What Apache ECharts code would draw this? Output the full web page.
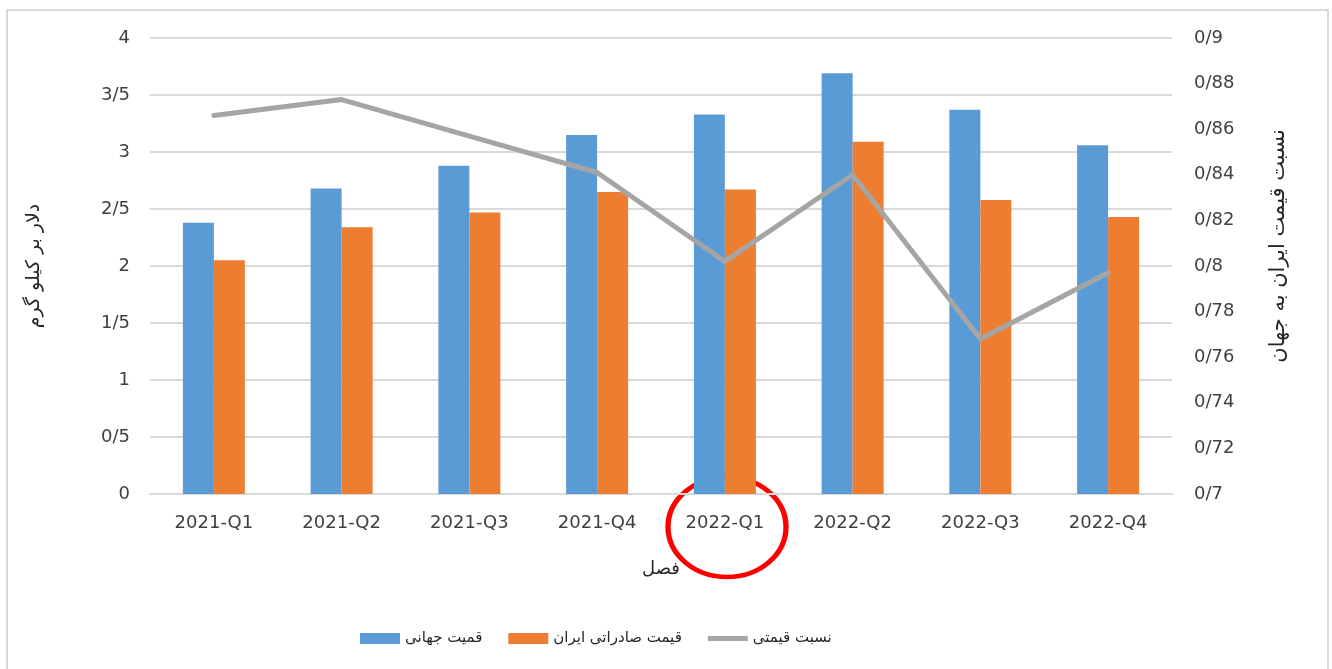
<!DOCTYPE html>
<html>
<head>
<meta charset="utf-8">
<script src="https://cdn.jsdelivr.net/npm/echarts@6/dist/echarts.min.js"></script>
<style>
  html, body { margin: 0; padding: 0; background: #fff; }
  #myChart { width: 1332px; height: 669px; }
</style>
</head>
<body>
<div id="myChart"></div>
<script>
  var quarters = ['2021-Q1', '2021-Q2', '2021-Q3', '2021-Q4', '2022-Q1', '2022-Q2', '2022-Q3', '2022-Q4']
  var worldPrice = [2.38, 2.68, 2.88, 3.15, 3.33, 3.69, 3.37, 3.06]
  var iranPrice = [2.05, 2.34, 2.47, 2.65, 2.67, 3.09, 2.58, 2.43]
  var priceRatio = [0.866, 0.873, 0.857, 0.841, 0.802, 0.840, 0.768, 0.797]
  var leftTicks = ['0', '0/5', '1', '1/5', '2', '2/5', '3', '3/5', '4']
  var rightTicks = ['0/7', '0/72', '0/74', '0/76', '0/78', '0/8', '0/82', '0/84', '0/86', '0/88', '0/9']

  var font = 'DejaVu Sans'
  var textColor = '#404040'
  var myChart = echarts.init(document.getElementById('myChart'))
  var option = {
    backgroundColor: '#fff',
    animation: false,
    textStyle: { fontFamily: font },
    color: ['#5b9bd5', '#ed7d31', '#a5a5a5'],
    grid: { left: 150, right: 160, top: 38, bottom: 175 },
    legend: {
      top: 626,
      left: 355,
      itemWidth: 40,
      itemHeight: 11,
      itemGap: 26,
      textStyle: { color: '#262626', fontSize: 15, fontFamily: font },
      data: [
        { name: 'قمیت جهانی', icon: 'rect' },
        { name: 'قیمت صادراتی ایران', icon: 'rect' },
        // thin sliver keeps the icon box 40x11 so the bar stays 5px thick
        { name: 'نسبت قیمتی', icon: 'path://M0,3 h40 v5 h-40 z M0,0 h0.01 v11 h-0.01 z' }
      ]
    },
    xAxis: {
      type: 'category',
      data: quarters,
      name: 'فصل',
      nameLocation: 'middle',
      nameGap: 66,
      nameTextStyle: { color: '#262626', fontSize: 18 },
      axisLine: { lineStyle: { color: '#d9d9d9', width: 2 } },
      axisTick: { show: false },
      axisLabel: { color: textColor, fontSize: 18, margin: 20 }
    },
    yAxis: [
      {
        type: 'value',
        min: 0, max: 4, interval: 0.5,
        name: 'دلار بر کیلو گرم',
        nameLocation: 'middle',
        nameGap: 106,
        nameRotate: 90,
        nameTextStyle: { color: '#262626', fontSize: 19 },
        axisLine: { show: false },
        axisTick: { show: false },
        axisLabel: {
          color: textColor, fontSize: 18, margin: 20,
          formatter: function (v, i) { return leftTicks[i] }
        },
        splitLine: { lineStyle: { color: '#d9d9d9', width: 2 } }
      },
      {
        type: 'value',
        min: 0.7, max: 0.9, interval: 0.02,
        name: 'نسبت قیمت ایران به جهان',
        nameLocation: 'middle',
        nameGap: 96,
        nameRotate: 90,
        nameTextStyle: { color: '#262626', fontSize: 21, padding: [0, 0, 0, 40] },
        axisLine: { show: false },
        axisTick: { show: false },
        axisLabel: {
          color: textColor, fontSize: 18, margin: 22,
          formatter: function (v, i) { return rightTicks[i] }
        },
        splitLine: { show: false }
      }
    ],
    series: [
      {
        name: 'قمیت جهانی',
        type: 'bar',
        barWidth: 31,
        barGap: '0%',
        data: worldPrice
      },
      {
        name: 'قیمت صادراتی ایران',
        type: 'bar',
        barWidth: 31,
        barGap: '0%',
        data: iranPrice
      },
      {
        name: 'نسبت قیمتی',
        type: 'line',
        yAxisIndex: 1,
        symbol: 'none',
        lineStyle: { width: 5, color: '#a5a5a5', cap: 'round', join: 'round' },
        data: priceRatio
      }
    ],
    graphic: [
      {
        type: 'rect',
        shape: { x: 7, y: 10, width: 1321, height: 665 },
        style: { fill: 'none', stroke: '#d9d9d9', lineWidth: 2 },
        silent: true
      },
      {
        type: 'circle',
        x: 727, y: 527,
        scaleX: 1.18,
        shape: { cx: 0, cy: 0, r: 50 },
        style: { fill: 'none', stroke: '#ff0000', lineWidth: 4.5 },
        silent: true
      }
    ]
  }
  myChart.setOption(option)
</script>
</body>
</html>
